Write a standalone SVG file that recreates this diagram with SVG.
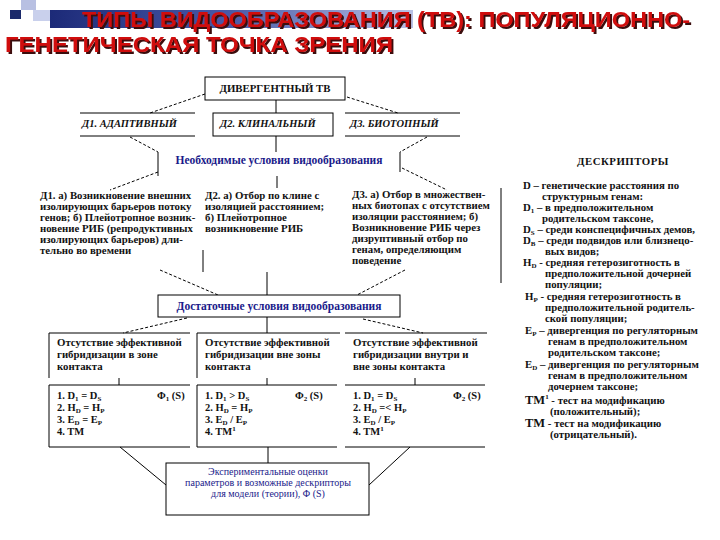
<svg xmlns="http://www.w3.org/2000/svg" width="720" height="540" viewBox="0 0 720 540">
<defs>
<linearGradient id="band" x1="0" y1="0" x2="1" y2="0">
<stop offset="0" stop-color="#1c2a78"/>
<stop offset="0.5" stop-color="#4a5aa8"/>
<stop offset="1" stop-color="#b9c2e6"/>
</linearGradient>
<filter id="sh" x="-5%" y="-20%" width="110%" height="150%">
<feDropShadow dx="2" dy="2" stdDeviation="0.3" flood-color="#3a0a0a" flood-opacity="1"/>
</filter>
</defs>
<style>
.ln{stroke:#000;stroke-width:1;fill:none}
.ds{stroke:#000;stroke-width:1;fill:none;stroke-dasharray:3 2}
.bx{stroke:#000;stroke-width:1;fill:#fff}
.t{font-family:"Liberation Serif","Times New Roman",serif;font-weight:bold;font-size:10.8px;fill:#111}
.f{font-family:"Liberation Serif","Times New Roman",serif;font-weight:bold;font-size:10.5px;fill:#111}
.ti{font-family:"Liberation Serif","Times New Roman",serif;font-weight:bold;font-style:italic;font-size:10.5px;fill:#111}
.bl{font-family:"Liberation Serif","Times New Roman",serif;font-weight:bold;font-size:11.5px;fill:#1a1a8a}
.bs{font-family:"Liberation Serif","Times New Roman",serif;font-size:10px;fill:#1a1a8a}
.h{font-family:"Liberation Sans",Arial,sans-serif;font-weight:bold;font-size:22px;fill:#d01010}
.sb{font-size:7px}
</style>
<rect width="720" height="540" fill="#fff"/>
<g id="title">
<rect x="21" y="0" width="15" height="10" fill="#b8c0e2"/>
<rect x="33" y="10" width="17" height="11" fill="#c9d0ec"/>
<rect x="10" y="10" width="11" height="9" fill="#1b2a6b"/>
<rect x="50" y="10" width="363" height="18" fill="url(#band)"/>
<text class="h" x="82" y="27" filter="url(#sh)" textLength="608" lengthAdjust="spacingAndGlyphs">ТИПЫ ВИДООБРАЗОВАНИЯ (ТВ): ПОПУЛЯЦИОННО-</text>
<text class="h" x="5" y="52" filter="url(#sh)" textLength="388" lengthAdjust="spacingAndGlyphs">ГЕНЕТИЧЕСКАЯ ТОЧКА ЗРЕНИЯ</text>
</g>
<g id="connectors">
<path class="ds" d="M205,94 L150,113"/>
<path class="ds" d="M347,97 L398,113"/>
<path class="ln" d="M276,100 V113"/>
<path class="ds" d="M130,137 L158,152"/>
<path class="ln" d="M276,136 V152"/>
<path class="ds" d="M427,137 L400,152"/>
<path class="ds" d="M158,172 L110,190"/>
<path class="ln" d="M277,176 V188"/>
<path class="ds" d="M402,168 L447,190"/>
<path class="ds" d="M160,270 L218,295"/>
<path class="ln" d="M267,272 V295"/>
<path class="ds" d="M405,270 L357,295"/>
<path class="ds" d="M187,318 L123,333"/>
<path class="ln" d="M267,317 V333"/>
<path class="ds" d="M363,319 L423,333"/>
<path class="ln" d="M119,378 V385"/>
<path class="ln" d="M267,378 V385"/>
<path class="ln" d="M415,378 V385"/>
<path class="ln" d="M120,447 L166,485"/>
<path class="ln" d="M268,447 V463"/>
<path class="ln" d="M410,447 L369,485"/>
</g>
<g id="n-div">
<rect class="bx" x="205" y="77" width="140" height="23"/>
<text class="t" x="275" y="92" text-anchor="middle" font-size="11.5">ДИВЕРГЕНТНЫЙ ТВ</text>
</g>
<g id="n-d1">
<path class="ln" d="M80,113 H195 M80,136 H195"/>
<text class="ti" x="82" y="127">Д1. АДАПТИВНЫЙ</text>
</g>
<g id="n-d2">
<rect class="bx" x="213" y="113" width="120" height="23"/>
<text class="ti" x="220" y="127">Д2. КЛИНАЛЬНЫЙ</text>
</g>
<g id="n-d3">
<path class="ln" d="M345,113 H460 M345,136 H460"/>
<text class="ti" x="350" y="127">Д3. БИОТОПНЫЙ</text>
</g>
<g id="n-need">
<path class="ln" d="M158,152 V176 M400,152 V172"/>
<text class="bl" x="279" y="164" text-anchor="middle">Необходимые условия видообразования</text>
</g>
<g id="n-c1">
<text class="t" x="40" y="199">Д1. а) Возникновение внешних</text>
<text class="t" x="40" y="210">изолирующих барьеров потоку</text>
<text class="t" x="40" y="221">генов; б) Плейотропное возник-</text>
<text class="t" x="40" y="232">новение РИБ (репродуктивных</text>
<text class="t" x="40" y="243">изолирующих барьеров) дли-</text>
<text class="t" x="40" y="254">тельно во времени</text>
</g>
<g id="n-c2">
<path class="ln" d="M203,250 V272"/>
<text class="t" x="205" y="199">Д2. а) Отбор по клине с</text>
<text class="t" x="205" y="210">изоляцией расстоянием;</text>
<text class="t" x="205" y="221">б) Плейотропное</text>
<text class="t" x="205" y="232">возникновение РИБ</text>
</g>
<g id="n-c3">
<path class="ln" d="M501,188 V283"/>
<text class="t" x="352" y="198">Д3. а) Отбор в множествен-</text>
<text class="t" x="352" y="209">ных биотопах с отсутствием</text>
<text class="t" x="352" y="220">изоляции расстоянием; б)</text>
<text class="t" x="352" y="231">Возникновение РИБ через</text>
<text class="t" x="352" y="242">дизруптивный отбор по</text>
<text class="t" x="352" y="253">генам, определяющим</text>
<text class="t" x="352" y="264">поведение</text>
</g>
<g id="n-desc">
<text class="t" x="623" y="165" text-anchor="middle" font-weight="normal" letter-spacing="0.5">ДЕСКРИПТОРЫ</text>
<text class="t" x="523" y="189">D  – генетические расстояния по</text>
<text class="t" x="542" y="200">структурным генам:</text>
<text class="t" x="523" y="211">D<tspan class="sb" dy="1.5">1</tspan><tspan dy="-1.5"> – в предположительном</tspan></text>
<text class="t" x="542" y="222">родительском таксоне,</text>
<text class="t" x="523" y="233">D<tspan class="sb" dy="1.5">S</tspan><tspan dy="-1.5"> – среди конспецифичных демов,</tspan></text>
<text class="t" x="523" y="244">D<tspan class="sb" dy="1.5">B</tspan><tspan dy="-1.5">  – среди подвидов или близнецо-</tspan></text>
<text class="t" x="545" y="255">вых видов;</text>
<text class="t" x="523" y="266">H<tspan class="sb" dy="1.5">D</tspan><tspan dy="-1.5"> - средняя гетерозиготность в</tspan></text>
<text class="t" x="545" y="277">предположительной дочерней</text>
<text class="t" x="545" y="288">популяции;</text>
<text class="t" x="525" y="300">H<tspan class="sb" dy="1.5">P</tspan><tspan dy="-1.5"> - средняя гетерозиготность в</tspan></text>
<text class="t" x="545" y="311">предположительной родитель-</text>
<text class="t" x="545" y="322">ской популяции;</text>
<text class="t" x="525" y="334">E<tspan class="sb" dy="1.5">P</tspan><tspan dy="-1.5">  – дивергенция по регуляторным</tspan></text>
<text class="t" x="548" y="345">генам в предположительном</text>
<text class="t" x="548" y="356">родительском таксоне;</text>
<text class="t" x="525" y="368">E<tspan class="sb" dy="1.5">D</tspan><tspan dy="-1.5"> – дивергенция по регуляторным</tspan></text>
<text class="t" x="548" y="379">генам в предположительном</text>
<text class="t" x="548" y="390">дочернем таксоне;</text>
<text class="t" x="525" y="404"><tspan font-size="12.5">TM</tspan><tspan class="sb" dy="-5">1</tspan><tspan dy="5"> - тест на модификацию</tspan></text>
<text class="t" x="550" y="415">(положительный);</text>
<text class="t" x="525" y="427"><tspan font-size="12.5">TM</tspan>  - тест на модификацию</text>
<text class="t" x="550" y="438">(отрицательный).</text>
</g>
<g id="n-suff">
<rect class="bx" x="158" y="295" width="242" height="22"/>
<text class="bl" x="279" y="310" text-anchor="middle">Достаточные условия видообразования</text>
</g>
<g id="n-a">
<path class="ln" d="M49,378 V333 H190"/>
<text class="t" x="57" y="346">Отсутствие эффективной</text>
<text class="t" x="57" y="358">гибридизации в зоне</text>
<text class="t" x="57" y="370">контакта</text>
</g>
<g id="n-b">
<path class="ln" d="M197,378 V333 H340"/>
<text class="t" x="205" y="346">Отсутствие эффективной</text>
<text class="t" x="205" y="358">гибридизации вне зоны</text>
<text class="t" x="205" y="370">контакта</text>
</g>
<g id="n-c">
<path class="ln" d="M345,333 H487"/>
<text class="t" x="353" y="346">Отсутствие эффективной</text>
<text class="t" x="353" y="358">гибридизации внутри и</text>
<text class="t" x="353" y="370">вне зоны контакта</text>
</g>
<g id="n-a2">
<path class="ln" d="M190,385 H49 V447 H190"/>
<text class="f" x="57" y="399">1. D<tspan class="sb" dy="1.5">1</tspan><tspan dy="-1.5"> = D</tspan><tspan class="sb" dy="1.5">S</tspan></text>
<text class="f" x="57" y="411">2. H<tspan class="sb" dy="1.5">D</tspan><tspan dy="-1.5"> = H</tspan><tspan class="sb" dy="1.5">P</tspan></text>
<text class="f" x="57" y="423">3. E<tspan class="sb" dy="1.5">D</tspan><tspan dy="-1.5"> = E</tspan><tspan class="sb" dy="1.5">P</tspan></text>
<text class="f" x="57" y="435">4. TM</text>
<text class="f" x="157" y="399">Φ<tspan class="sb" dy="1.5">1</tspan><tspan dy="-1.5"> (S)</tspan></text>
</g>
<g id="n-b2">
<path class="ln" d="M337,385 H197 V447 H337"/>
<text class="f" x="205" y="399">1. D<tspan class="sb" dy="1.5">1</tspan><tspan dy="-1.5"> &gt; D</tspan><tspan class="sb" dy="1.5">S</tspan></text>
<text class="f" x="205" y="411">2. H<tspan class="sb" dy="1.5">D</tspan><tspan dy="-1.5"> = H</tspan><tspan class="sb" dy="1.5">P</tspan></text>
<text class="f" x="205" y="423">3. E<tspan class="sb" dy="1.5">D</tspan><tspan dy="-1.5"> / E</tspan><tspan class="sb" dy="1.5">P</tspan></text>
<text class="f" x="205" y="435">4. TM<tspan class="sb" dy="-4">1</tspan></text>
<text class="f" x="295" y="399">Φ<tspan class="sb" dy="1.5">2</tspan><tspan dy="-1.5"> (S)</tspan></text>
</g>
<g id="n-c2b">
<path class="ln" d="M345,385 H485 M345,447 H485"/>
<text class="f" x="353" y="399">1. D<tspan class="sb" dy="1.5">1</tspan><tspan dy="-1.5"> = D</tspan><tspan class="sb" dy="1.5">S</tspan></text>
<text class="f" x="353" y="411">2. H<tspan class="sb" dy="1.5">D</tspan><tspan dy="-1.5"> =&lt; H</tspan><tspan class="sb" dy="1.5">P</tspan></text>
<text class="f" x="353" y="423">3. E<tspan class="sb" dy="1.5">D</tspan><tspan dy="-1.5"> / E</tspan><tspan class="sb" dy="1.5">P</tspan></text>
<text class="f" x="353" y="435">4. TM<tspan class="sb" dy="-4">1</tspan></text>
<text class="f" x="453" y="399">Φ<tspan class="sb" dy="1.5">2</tspan><tspan dy="-1.5"> (S)</tspan></text>
</g>
<g id="n-exp">
<rect class="bx" x="166" y="463" width="203" height="52"/>
<text class="bs" x="268" y="475" text-anchor="middle">Экспериментальные оценки</text>
<text class="bs" x="268" y="486" text-anchor="middle">параметров и возможные дескрипторы</text>
<text class="bs" x="268" y="497" text-anchor="middle">для модели (теории), Φ (S)</text>
</g>
</svg>
